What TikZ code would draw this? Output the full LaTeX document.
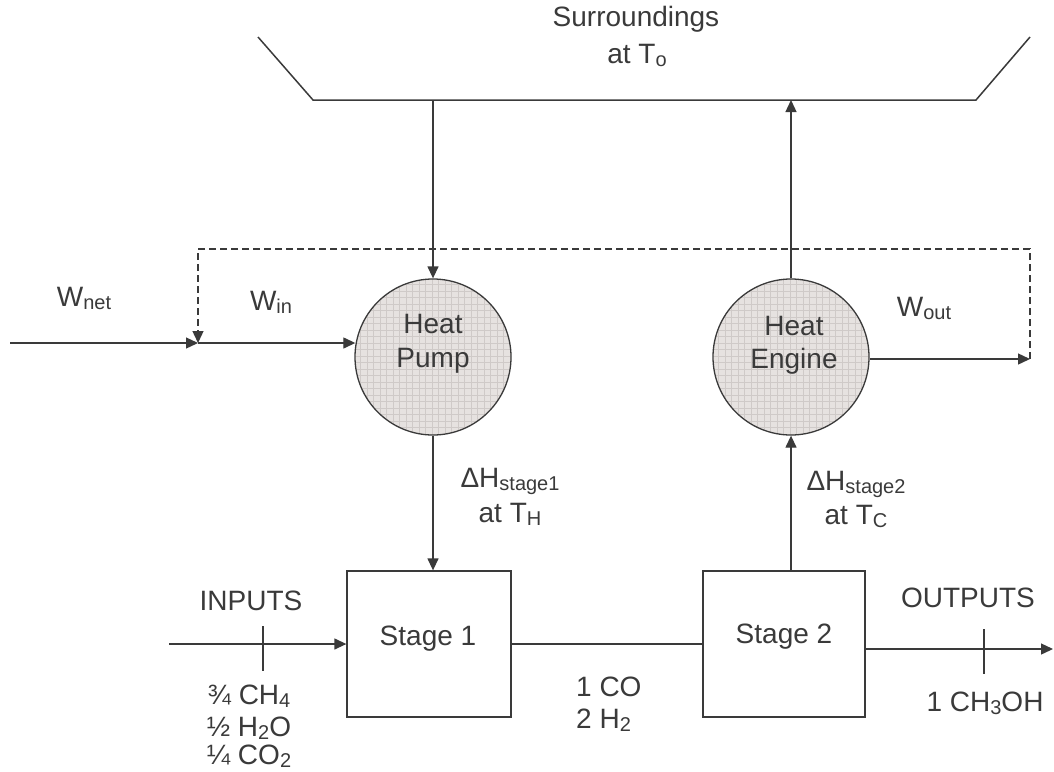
\documentclass[tikz,border=0pt]{standalone}
\usepackage{fontspec}
\setmainfont{Liberation Sans}
\usetikzlibrary{arrows.meta}
\definecolor{ink}{HTML}{3A3A3A}
\definecolor{cfill}{HTML}{E6E2E0}
\definecolor{cgrid}{HTML}{CFCAC8}
\newcommand{\sbs}[1]{\raisebox{-3pt}{\fontsize{20pt}{20pt}\selectfont #1}}
\begin{document}
\begin{tikzpicture}[x=1pt,y=-1pt,
  every node/.style={font=\fontsize{28pt}{33pt}\selectfont, text=ink},
  lbl/.style={anchor=base, inner sep=0pt},
  line/.style={draw=ink, line width=1.3pt},
  arr/.style={line, -{Triangle[length=12pt,width=11pt]}},
  dline/.style={arr, dash pattern=on 7pt off 4pt},
  stagebox/.style={line, rectangle, minimum height=146pt, inner sep=0pt},
  machine/.style={line, circle, minimum size=156pt, inner sep=0pt},
  gridline/.style={draw=cgrid, line width=0.45pt}
]
\useasboundingbox (0,0) rectangle (1054,771);

% circle fills with grid pattern
\foreach \cx in {433,791}{
  \fill[cfill] (\cx,357) circle (78);
  \begin{scope}
    \clip (\cx,357) circle (78);
    \foreach \i in {0,...,24}{
      \draw[gridline] (\cx-79+\i*6.5,278) -- ++(0,158);
      \draw[gridline] (\cx-79,278+\i*6.5) -- ++(158,0);
    }
  \end{scope}
}

% machines
\node[machine] (hp) at (433,357) {};
\node[machine] (he) at (791,357) {};
\node[lbl] (hpA) at (433,333) {Heat};
\node[lbl] (hpB) at (433,367) {Pump};
\node[lbl] (heA) at (794,335) {Heat};
\node[lbl] (heB) at (794,368) {Engine};

% stages
\node[stagebox, minimum width=164pt] (s1) at (429,644) {};
\node[stagebox, minimum width=162pt] (s2) at (784,644) {};
\node[lbl] (s1t) at (428,645) {Stage 1};
\node[lbl] (s2t) at (784,643) {Stage 2};

% surroundings
\coordinate (sTL) at (258,37);
\coordinate (sBL) at (313,100);
\coordinate (sBR) at (976,100);
\coordinate (sTR) at (1030,37);
\draw[line, line width=1.5pt] (sTL) -- (sBL) -- (sBR) -- (sTR);
\node[lbl] (surA) at (636,27) {Surroundings};
\node[lbl] (surB) at (637,63) {at T\sbs{o}};

% heat flows
\draw[arr] (hp.north |- sBL) -- (hp.north);
\draw[arr] (he.north) -- (he.north |- sBL);
\draw[arr] (hp.south) -- (hp.south |- s1.north);
\draw[arr] (he.south |- s2.north) -- (he.south);

% work
\coordinate (wS) at (10,343);
\coordinate (jn) at (198,343);
\coordinate (dL) at (198,249);
\coordinate (dR) at (1030,249);
\coordinate (wo) at (1030,359);
\draw[arr] (wS) -- (jn);
\draw[arr] (jn) -- (jn -| hp.171);
\draw[arr] (he.east |- wo) -- (wo);
\draw[dline] (wo) -- (dR) -- (dL) -- (jn);
\node[lbl] (wnet) at (84,306) {W\sbs{net}};
\node[lbl] (win) at (271,310) {W\sbs{in}};
\node[lbl] (wout) at (924,316) {W\sbs{out}};

% enthalpy labels
\node[lbl] (dh1) at (510,487) {ΔH\sbs{stage1}};
\node[lbl] (dh1b) at (510,522) {at T\sbs{H}};
\node[lbl] (dh2) at (856,490) {ΔH\sbs{stage2}};
\node[lbl] (dh2b) at (856,524) {at T\sbs{C}};

% streams
\coordinate (inS) at (169,644);
\draw[arr] (inS) -- (s1.west);
\coordinate (tiA) at (263,626);
\coordinate (tiB) at (263,671);
\draw[line] (tiA) -- (tiB);
\draw[line] (s1.east) -- (s2.west);
\coordinate (oS) at (865,649);
\coordinate (oE) at (1053,649);
\draw[arr] (oS) -- (oE);
\coordinate (toA) at (984,629);
\coordinate (toB) at (984,674);
\draw[line] (toA) -- (toB);

\node[lbl] (inp) at (251,610) {INPUTS};
\node[lbl] (in1) at (249,704) {¾ CH\sbs{4}};
\node[lbl] (in2) at (249,736) {½ H\sbs{2}O};
\node[lbl] (in3) at (249,764) {¼ CO\sbs{2}};
\node[lbl, anchor=base west] (mid1) at (576,696) {1 CO};
\node[lbl, anchor=base west] (mid2) at (576,728) {2 H\sbs{2}};
\node[lbl] (outp) at (968,607) {OUTPUTS};
\node[lbl] (out1) at (985,711) {1 CH\sbs{3}OH};
\end{tikzpicture}
\end{document}
